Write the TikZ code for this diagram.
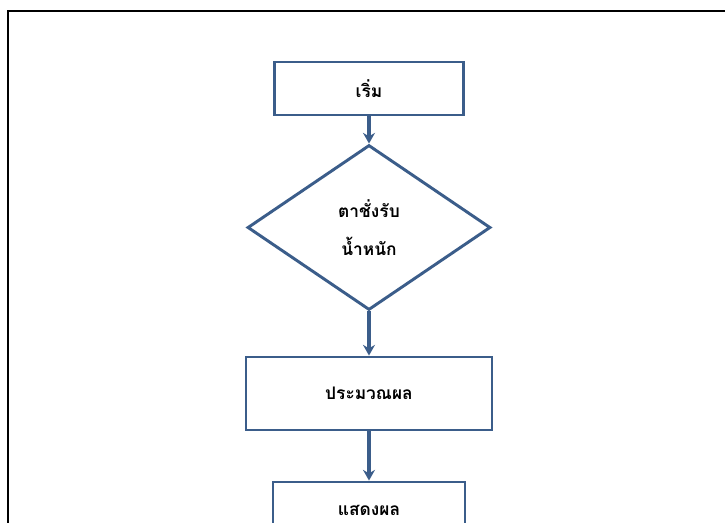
\documentclass[tikz,border=0pt]{standalone}
\usepackage{fontspec}
\newfontfamily\thaifont[Script=Thai]{Loma}
\usetikzlibrary{shapes.geometric,arrows.meta}
\definecolor{flowblue}{RGB}{59,93,138}
\tikzset{
  stepbox/.style={draw=flowblue,line width=2.2pt,fill=white,rectangle,inner sep=0pt},
  testbox/.style={draw=flowblue,line width=2.2pt,fill=white,diamond,inner sep=0pt},
  flowline/.style={draw=flowblue,line width=2.6pt,-{Stealth[length=8pt,width=9pt]}},
  thaitext/.style={font=\thaifont\bfseries\fontsize{13}{14}\selectfont,align=center}
}
\begin{document}
\begin{tikzpicture}[x=0.75pt,y=-0.75pt]
                  \useasboundingbox (0,0) rectangle (725,522);
                  \clip (0,0) rectangle (725,522);
                  \draw[line width=1.6pt] (8,530)--(8,11)--(735,11);
                  \node[stepbox,thaitext,minimum width=189*0.75pt,minimum height=53*0.75pt] (start) at (369,88.5) {เริ่ม};
                  \node[testbox,thaitext,minimum width=243*0.75pt,minimum height=165*0.75pt] (scale) at (369,227.5) {ตาชั่งรับ\\[15pt]น้ำหนัก};
                  \node[stepbox,thaitext,minimum width=246*0.75pt,minimum height=73*0.75pt] (calc) at (369,393.5) {ประมวณผล};
                  \node[stepbox,minimum width=192*0.75pt,minimum height=60*0.75pt] (show) at (369,512) {};
                  \node[thaitext] (showtext) at (369,510) {แสดงผล};
                  \draw[flowline] (start.south)--(scale.north);
                  \draw[flowline] (scale.south)--(calc.north);
                  \draw[flowline] (calc.south)--(show.north);
              \end{tikzpicture}
\end{document}
